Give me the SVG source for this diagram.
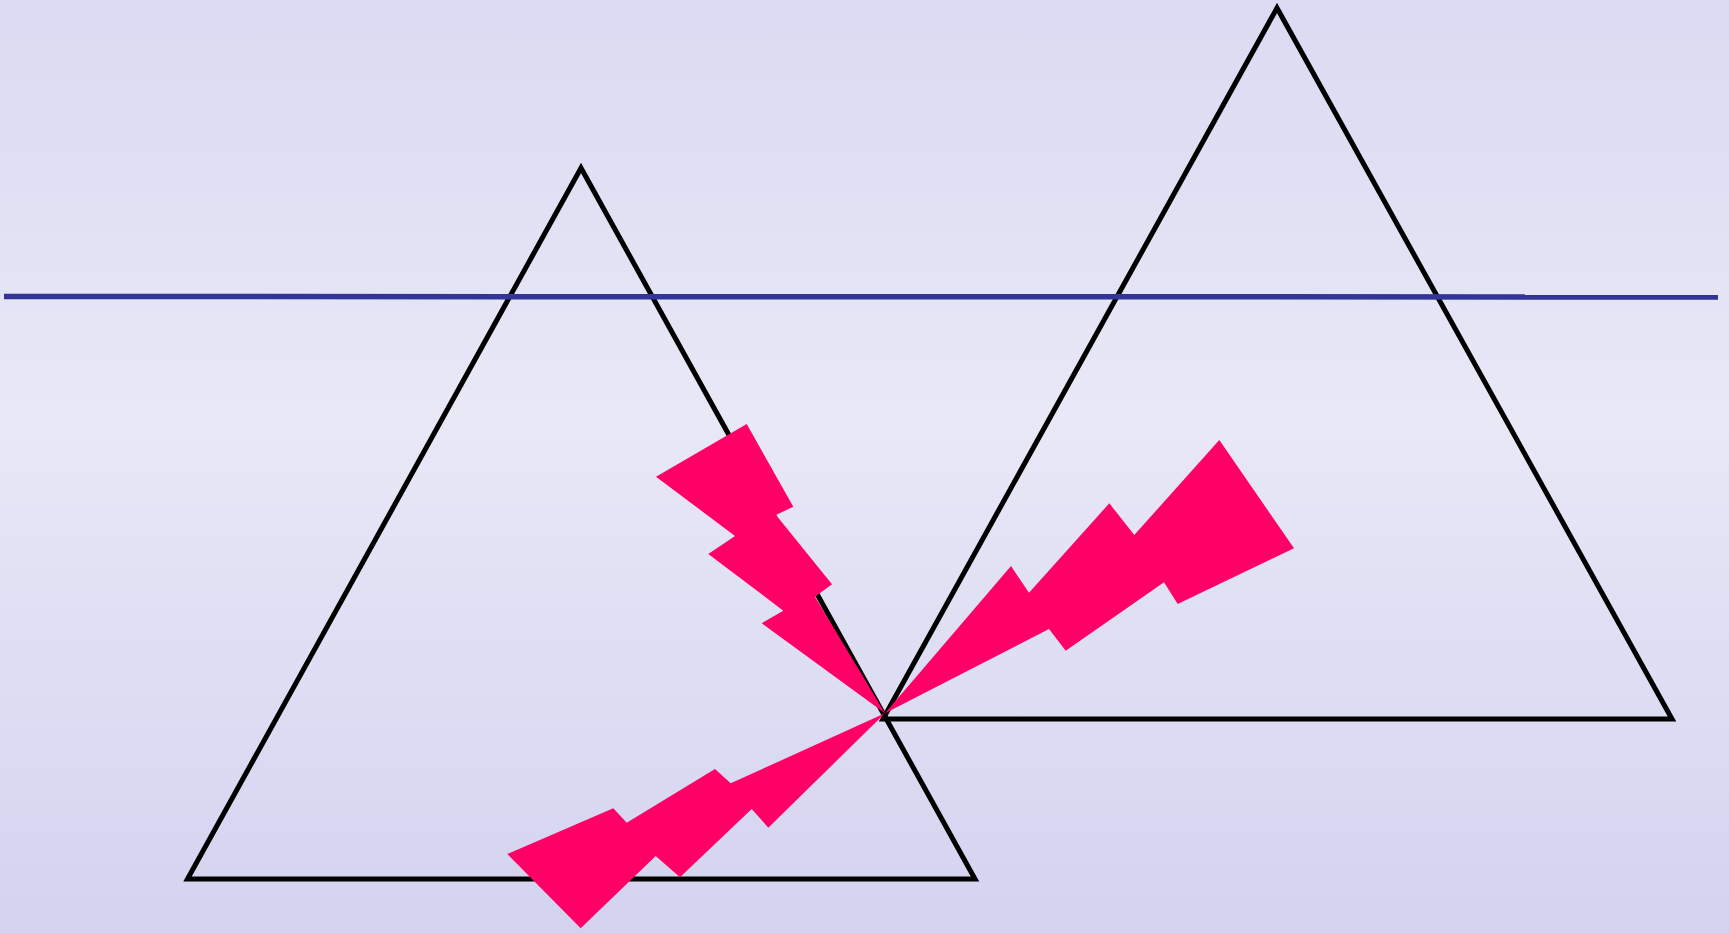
<svg xmlns="http://www.w3.org/2000/svg" width="1729" height="933" viewBox="0 0 1729 933">
<defs>
<linearGradient id="bg" x1="0" y1="0" x2="0" y2="1">
<stop offset="0" stop-color="#DADAF2"/>
<stop offset="0.45" stop-color="#E8E8F7"/>
<stop offset="1" stop-color="#D3D3F0"/>
</linearGradient>
<style>
.tri{fill:none;stroke:#000;stroke-width:5;stroke-linejoin:miter}
.bolt{fill:#FF0066;stroke:none}
.hline{stroke:#333399;stroke-width:5.5;fill:none}
</style>
</defs>
<rect x="0" y="0" width="1729" height="933" fill="url(#bg)"/>
<g id="triangle-left"><polygon class="tri" points="581,168 187.5,879 975,879"/></g>
<g id="triangle-right"><polygon class="tri" points="1277,8 883,719 1672,719"/></g>
<g id="connectors"><line class="hline" x1="4" y1="296.5" x2="1718" y2="297"/></g>
<g id="bolt-upper"><polygon class="bolt" points="746.7,424 793.3,506.7 776,515 832,584.3 815,596.7 885,713.3 761.7,623.3 783.3,610.7 708.3,554 735,536 656,476.7"/></g>
<g id="bolt-right"><polygon class="bolt" points="885,713.3 1011,566 1029,592.7 1109.3,503.3 1134.3,535 1219.3,440 1294,548.3 1177.7,604 1164,582.3 1065.7,650.7 1049,629"/></g>
<g id="bolt-lower"><polygon class="bolt" points="885,713.3 730.7,783.3 715,769 626.7,822.7 613.3,808.3 507.3,854 580.7,928.3 655.7,856 680,877.3 751.7,809 768.3,827.7"/></g>
</svg>
